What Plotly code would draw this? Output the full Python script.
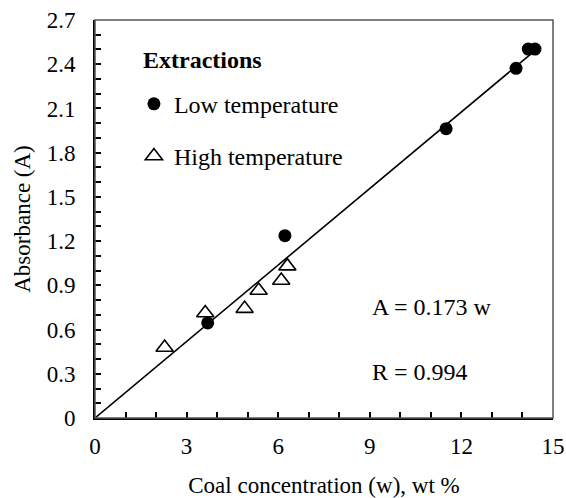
import plotly.graph_objects as go

# Absorbance vs coal concentration for two extraction temperatures
low_w = [3.69, 6.22, 11.50, 13.79, 14.19, 14.41]
low_a = [0.645, 1.237, 1.963, 2.372, 2.503, 2.503]

high_w = [2.28, 3.61, 4.90, 5.36, 6.10, 6.30]
high_a = [0.478, 0.712, 0.742, 0.865, 0.933, 1.030]

slope = 0.173
fit_w = [0.0, 14.3]
fit_a = [slope * w for w in fit_w]

x_ticks = [0, 3, 6, 9, 12, 15]
y_ticks = [0, 0.3, 0.6, 0.9, 1.2, 1.5, 1.8, 2.1, 2.4, 2.7]

SERIF = "Liberation Serif, Times New Roman, serif"
FS = 23
FS_TEXT = 24

fig = go.Figure()

fig.add_trace(go.Scatter(
    x=fit_w, y=fit_a, mode="lines",
    line=dict(color="black", width=1.6),
    showlegend=False, hoverinfo="skip",
))
fig.add_trace(go.Scatter(
    x=low_w, y=low_a, mode="markers", name="Low temperature",
    legendgroup="low",
    marker=dict(symbol="circle", size=13, color="black"),
))
fig.add_trace(go.Scatter(
    x=high_w, y=high_a, mode="markers", name="High temperature",
    legendgroup="high",
    marker=dict(symbol="triangle-up-open", size=15, color="black",
                line=dict(width=1.6)),
))

fig.add_annotation(x=0.1, y=0.9, xref="paper", yref="paper",
                   text="<b>Extractions</b>", showarrow=False,
                   xanchor="left", yanchor="middle",
                   font=dict(family=SERIF, size=FS_TEXT, color="black"))
fig.add_annotation(x=9.0, y=0.75, xref="x", yref="y", text="A = 0.173 w",
                   showarrow=False, xanchor="left",
                   font=dict(family=SERIF, size=FS_TEXT, color="black"))
fig.add_annotation(x=9.0, y=0.31, xref="x", yref="y", text="R = 0.994",
                   showarrow=False, xanchor="left",
                   font=dict(family=SERIF, size=FS_TEXT, color="black"))

# thin grey frame on the top and right sides
fig.add_shape(type="rect", xref="paper", yref="paper", x0=0, y0=0, x1=1, y1=1,
              line=dict(color="#555555", width=1.5), layer="above")

fig.update_xaxes(
    range=[0, 15], tickvals=x_ticks, ticktext=[str(v) for v in x_ticks],
    ticks="inside", ticklen=6, tickwidth=1.5, tickcolor="black",
    minor=dict(dtick=1, ticks="inside", ticklen=6, tickwidth=1.5, tickcolor="black"),
    showline=True, linecolor="black", linewidth=2,
    showgrid=False, zeroline=False, automargin=False,
    tickfont=dict(family=SERIF, size=FS, color="black"),
    ticklabelstandoff=6,
    title=dict(text="Coal concentration (w), wt %", standoff=19,
               font=dict(family=SERIF, size=FS, color="black")),
)
fig.update_yaxes(
    range=[0, 2.7], tickvals=y_ticks, ticktext=[("%g" % v) for v in y_ticks],
    ticks="inside", ticklen=6, tickwidth=1.5, tickcolor="black",
    minor=dict(dtick=0.1, ticks="inside", ticklen=6, tickwidth=1.5, tickcolor="black"),
    showline=True, linecolor="black", linewidth=2,
    showgrid=False, zeroline=False, automargin=False,
    tickfont=dict(family=SERIF, size=FS, color="black"),
    ticklabelstandoff=13,
    title=dict(text="Absorbance (A)", standoff=10,
               font=dict(family=SERIF, size=FS, color="black")),
)

fig.update_layout(
    width=566, height=498,
    margin=dict(l=95, r=13, t=20, b=80),
    paper_bgcolor="white", plot_bgcolor="white",
    font=dict(family=SERIF, color="black"),
    legend=dict(
        x=0.085, y=0.845, xanchor="left", yanchor="top",
        bgcolor="rgba(0,0,0,0)",
        font=dict(family=SERIF, size=FS_TEXT, color="black"),
        tracegroupgap=18,
        itemwidth=30,
    ),
)

fig.write_html("out.html")
